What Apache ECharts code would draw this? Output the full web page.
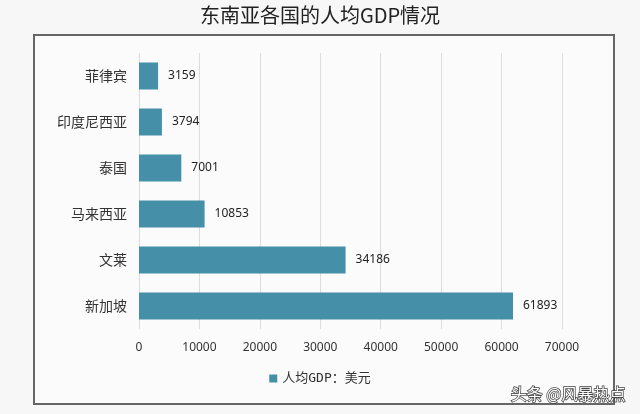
<!DOCTYPE html>
<html><head><meta charset="utf-8">
<script src="https://cdn.jsdelivr.net/npm/echarts@6/dist/echarts.min.js"></script>
<style>html,body{margin:0;padding:0;background:#f8f7f8;}#c{width:640px;height:414px;}</style>
</head><body><div id="c"></div>
<script>
const categories = ['新加坡','文莱','马来西亚','泰国','印度尼西亚','菲律宾'];
const values = [61893, 34186, 10853, 7001, 3794, 3159];
const seriesName = '人均GDP：美元';
const titleText = '东南亚各国的人均GDP情况';
const chart = echarts.init(document.getElementById('c'));
chart.setOption({
  backgroundColor: '#f8f7f8',
  animation: false,
  title: { text: titleText, left: 'center', top: 0, textStyle: { fontFamily: 'Noto Sans CJK SC', fontSize: 20, fontWeight: 'normal', color: '#222' } },
  graphic: [
    { type: 'rect', shape: { x: 34, y: 35, width: 580, height: 369 }, style: { fill: '#fbfbfb', stroke: '#666', lineWidth: 2 }, z: -10 },
    { type: 'text', left: 510, top: 385, style: { text: '头条 @风暴热点', fontSize: 16, fontFamily: 'Noto Sans CJK SC', fill: '#fff', stroke: '#444', lineWidth: 1.5 }, z: 100 }
  ],
  legend: { bottom: 24, left: 'center', itemWidth: 8, itemHeight: 8, icon: 'rect', itemGap: 4,
    textStyle: { fontFamily: 'DejaVu Sans Mono, Noto Sans CJK SC', fontSize: 13, color: '#333' } },
  grid: { left: 139, right: 78, top: 53, bottom: 85 },
  xAxis: { type: 'value', min: 0, max: 70000, interval: 10000,
    axisLine: { show: false }, axisTick: { show: false },
    axisLabel: { margin: 13, fontSize: 12, color: '#333', fontFamily: 'Noto Sans', formatter: v => String(v) },
    splitLine: { lineStyle: { color: '#dddddd' } } },
  yAxis: { type: 'category', data: categories,
    axisLine: { show: false }, axisTick: { show: false },
    axisLabel: { margin: 12, fontSize: 14, color: '#333', fontFamily: 'Noto Sans CJK SC' } },
  series: [{ name: seriesName, type: 'bar', data: values, barWidth: 27,
    itemStyle: { color: '#4590a8' },
    label: { show: true, position: 'right', distance: 10, fontSize: 12, color: '#222', fontFamily: 'Noto Sans' } }]
});
</script></body></html>
